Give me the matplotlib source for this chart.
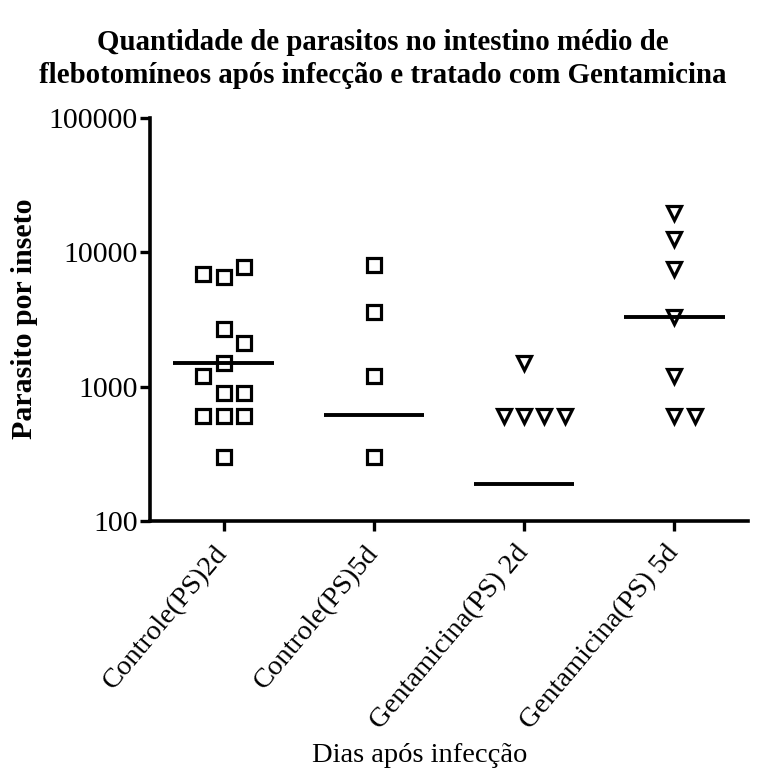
import matplotlib
matplotlib.use("Agg")
import matplotlib.pyplot as plt
import numpy as np

# ---------------- data ----------------
categories = ["Controle(PS)2d", "Controle(PS)5d", "Gentamicina(PS) 2d", "Gentamicina(PS) 5d"]
controle_2d = [300, 600, 600, 600, 900, 900, 1200, 1500, 2700, 2100, 6600, 7800, 6900]
controle_5d = [300, 1200, 3600, 8100]
gentamicina_2d = [600, 600, 600, 600, 1500]
gentamicina_5d = [600, 600, 1200, 3300, 7500, 12600, 19500]
medians = [1500, 620, 190, 3300]
markers = ["s", "s", "v", "v"]
y_ticks = [100, 1000, 10000, 100000]

title = "Quantidade de parasitos no intestino médio de\nflebotomíneos após infecção e tratado com Gentamicina"
ylabel = "Parasito por inseto"
xlabel = "Dias após infecção"

groups = [controle_2d, controle_5d, gentamicina_2d, gentamicina_5d]

# ---------------- figure ----------------
plt.rcParams['font.family'] = ['Liberation Serif', 'DejaVu Serif']
W, H = 763, 772
fig = plt.figure(figsize=(W / 100, H / 100), dpi=100)
ax = fig.add_axes([150 / W, (H - 521) / H, (748 - 150) / W, (521 - 118) / H])
ax.set_yscale('log')
ax.set_ylim(100, 100000)
ax.set_xlim(-0.49, 3.49)

# simple swarm placement: spread overlapping points into horizontal slots
slot_w = 0.135
thr_px = 17.0
for i, (vals, mk) in enumerate(zip(groups, markers)):
    placed = []  # (slot, ypx)
    xs = []
    for v in vals:
        ypx = ax.transData.transform((0, v))[1]
        for s in [0, 1, -1, 2, -2, 3, -3]:
            if all(not (ps == s and abs(py - ypx) < thr_px) for ps, py in placed):
                placed.append((s, ypx))
                xs.append(i + s * slot_w)
                break
    ax.plot(xs, vals, linestyle='none', marker=mk, markersize=10,
            markerfacecolor='none', markeredgecolor='black', markeredgewidth=2.3,
            clip_on=False, zorder=3)
    ax.plot([i - 0.335, i + 0.335], [medians[i], medians[i]], color='black',
            lw=2.8, solid_capstyle='butt', zorder=2)

for side in ['top', 'right']:
    ax.spines[side].set_visible(False)
for side in ['left', 'bottom']:
    ax.spines[side].set_linewidth(2.6)

ax.set_yticks(y_ticks)
ax.set_yticklabels([str(t) for t in y_ticks], fontsize=21.5)
ax.yaxis.set_minor_locator(matplotlib.ticker.NullLocator())
ax.set_xticks(range(len(categories)))
ax.set_xticklabels(categories, fontsize=20.5, rotation=50, ha='right',
                   va='center', rotation_mode='anchor')
ax.tick_params(axis='both', direction='out', length=7, width=2.4, color='black')
ax.tick_params(axis='y', pad=2)
ax.tick_params(axis='x', pad=13)

fig.text(383 / W, 1 - 59 / H, title, ha='center', va='center', fontsize=20.8,
         fontweight='bold', linespacing=1.25)
fig.text(25 / W, 1 - 319 / H, ylabel, ha='center', va='center', rotation=90,
         fontsize=21.5, fontweight='bold')
fig.text(420 / W, 1 - 755 / H, xlabel, ha='center', va='center', fontsize=20.5)

fig.savefig("out.png", dpi=100)
